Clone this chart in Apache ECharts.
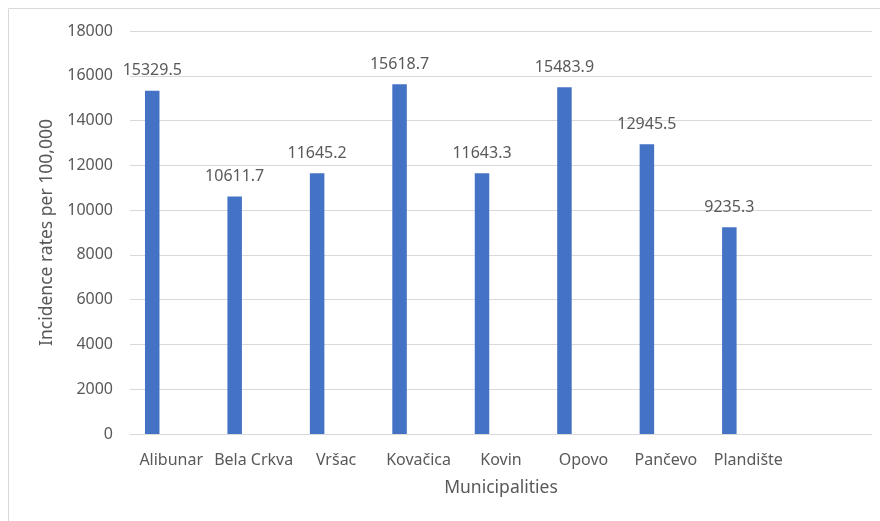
<!DOCTYPE html>
<html>
<head>
<meta charset="utf-8">
<title>Incidence rates by municipality</title>
<script src="https://cdn.jsdelivr.net/npm/echarts@6/dist/echarts.min.js"></script>
<style>
  html, body { margin: 0; padding: 0; background: #ffffff; }
  #chart { width: 880px; height: 521px; }
</style>
</head>
<body>
<div id="chart"></div>
<script>
// Municipalities and their incidence rates per 100,000
const municipalities = ['Alibunar', 'Bela Crkva', 'Vršac', 'Kovačica', 'Kovin', 'Opovo', 'Pančevo', 'Plandište'];
const incidenceRates = [15329.5, 10611.7, 11645.2, 15618.7, 11643.3, 15483.9, 12945.5, 9235.3];
const yTicks = { min: 0, max: 18000, interval: 2000 };

// One trailing empty slot keeps the category band as wide as the original layout
const categoryData = municipalities.concat(['']);
// Empty companion series, so the bars sit on the left of each category like a cluster
const placeholder = categoryData.map(() => null);

const textColor = '#595959';
const gridColor = '#D9D9D9';
const font = "'Noto Sans', 'Open Sans', sans-serif";

const chart = echarts.init(document.getElementById('chart'), null, { renderer: 'canvas' });

chart.setOption({
  animation: false,
  backgroundColor: '#ffffff',
  textStyle: { fontFamily: font, color: textColor },
  graphic: [{
    type: 'rect',
    shape: { x: 8.5, y: 8.5, width: 900, height: 540 },
    style: { fill: 'none', stroke: gridColor, lineWidth: 1 },
    silent: true,
    z: -1
  }],
  grid: { left: 130, right: 8, top: 31, bottom: 87, containLabel: false },
  xAxis: {
    type: 'category',
    data: categoryData,
    boundaryGap: true,
    name: 'Municipalities',
    nameLocation: 'middle',
    nameGap: 45,
    nameTextStyle: { fontFamily: font, fontSize: 17.5, color: textColor },
    axisLine: { show: true, lineStyle: { color: gridColor, width: 1 } },
    axisTick: { show: false },
    axisLabel: { fontFamily: font, fontSize: 16, color: textColor, margin: 18, interval: 0 }
  },
  yAxis: {
    type: 'value',
    min: yTicks.min,
    max: yTicks.max,
    interval: yTicks.interval,
    name: 'Incidence rates per 100,000',
    nameLocation: 'middle',
    nameGap: 73,
    nameRotate: 90,
    nameTextStyle: { fontFamily: font, fontSize: 17.5, color: textColor },
    axisLine: { show: false },
    axisTick: { show: false },
    axisLabel: {
      fontFamily: font,
      fontSize: 16,
      color: textColor,
      margin: 17,
      formatter: (v) => String(v)
    },
    splitLine: { show: true, lineStyle: { color: gridColor, width: 1 } }
  },
  series: [
    {
      type: 'bar',
      data: incidenceRates,
      barWidth: 14.5,
      barGap: '162%',
      itemStyle: { color: '#4472C4' },
      label: {
        show: true,
        position: 'top',
        distance: 12,
        fontFamily: font,
        fontSize: 16,
        color: textColor,
        formatter: (p) => p.value.toFixed(1)
      }
    },
    {
      type: 'bar',
      data: placeholder,
      barWidth: 14.5,
      itemStyle: { color: '#ED7D31' }
    }
  ]
});
</script>
</body>
</html>
